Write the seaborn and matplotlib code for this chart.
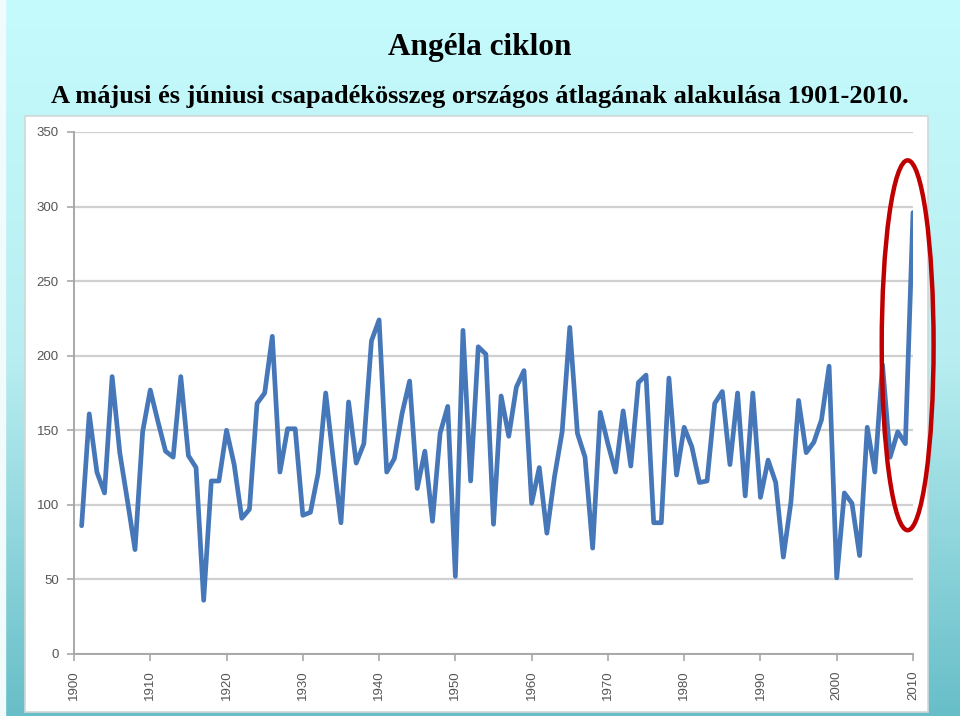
import numpy as np
import matplotlib
matplotlib.use('Agg')
import matplotlib.pyplot as plt
import seaborn as sns
from matplotlib.patches import Ellipse, Rectangle

# May + June precipitation totals, national average (mm), 1901-2010
years = list(range(1901, 2011))
rain = [86, 161, 122, 108, 186, 135, 103, 70, 149, 177,
        156, 136, 132, 186, 133, 125, 36, 116, 116, 150,
        127, 91, 97, 168, 175, 213, 122, 151, 151, 93,
        95, 121, 175, 130, 88, 169, 128, 141, 210, 224,
        122, 131, 161, 183, 111, 136, 89, 148, 166, 52,
        217, 116, 206, 201, 87, 173, 146, 179, 190, 101,
        125, 81, 119, 149, 219, 148, 132, 71, 162, 141,
        122, 163, 126, 182, 187, 88, 88, 185, 120, 152,
        139, 115, 116, 168, 176, 127, 175, 106, 175, 105,
        130, 115, 65, 102, 170, 135, 142, 157, 193, 51,
        108, 101, 66, 152, 122, 194, 132, 149, 141, 296]

title = 'Angéla ciklon'
subtitle = 'A májusi és júniusi csapadékösszeg országos átlagának alakulása 1901-2010.'
x_ticks = list(range(1900, 2011, 10))
y_ticks = list(range(0, 351, 50))

sns.set_theme(style="white")
plt.rcParams['font.family'] = ['Liberation Sans', 'DejaVu Sans']

fig = plt.figure(figsize=(9.6, 7.16), dpi=100)

# slide background: vertical cyan -> teal gradient
bg = fig.add_axes([0, 0, 1, 1], zorder=-10)
grad = np.linspace(0, 1, 256).reshape(-1, 1)
cmap = matplotlib.colors.LinearSegmentedColormap.from_list('slide', ['#c6fbfd', '#b8eef1', '#68bec8'])
bg.imshow(grad, aspect='auto', cmap=cmap, extent=[0, 1, 0, 1], origin='upper')
bg.add_patch(Rectangle((0, 0), 0.005, 1, color='#f2fbfb', transform=bg.transAxes))
# white chart box
bg.add_patch(Rectangle((25 / 960, 4 / 716), 903 / 960, 596 / 716, facecolor='white',
                       edgecolor='#cfd8d8', linewidth=1.2, transform=bg.transAxes))
bg.set_xlim(0, 1)
bg.set_ylim(0, 1)
bg.axis('off')

fig.text(0.5, 1 - 48 / 716, title, ha='center', va='center', fontsize=22.5,
         fontweight='bold', family='Liberation Serif', color='black')
fig.text(0.5, 1 - 97 / 716, subtitle, ha='center', va='center', fontsize=19,
         fontweight='bold', family='Liberation Serif', color='black')

ax = fig.add_axes([74 / 960, 62 / 716, 839 / 960, 522 / 716])
ax.set_facecolor('none')
sns.lineplot(x=years, y=rain, ax=ax, color='#4677b8', linewidth=3.4, zorder=3)

ax.set_xlim(1900, 2010)
ax.set_ylim(0, 350)
ax.set_xticks(x_ticks)
ax.set_yticks(y_ticks)
ax.set_xticklabels([str(t) for t in x_ticks], rotation=90)
ax.yaxis.grid(True, color='#d0d0d0', linewidth=1.6)
ax.set_axisbelow(True)
for side in ['top', 'right']:
    ax.spines[side].set_visible(False)
for side in ['left', 'bottom']:
    ax.spines[side].set_color('#a8a8a8')
    ax.spines[side].set_linewidth(1.4)
ax.tick_params(axis='both', which='major', direction='out', length=5, width=1.2,
               color='#a8a8a8', labelsize=9.5, labelcolor='#555555', bottom=True, left=True)
ax.tick_params(axis='x', pad=7)
ax.tick_params(axis='y', pad=6)
ax.set_xlabel('')
ax.set_ylabel('')

# red ellipse highlighting the 2010 record
ax.add_patch(Ellipse((2009.3, 207), 6.8, 248, fill=False, edgecolor='#c00000',
                     linewidth=3.2, clip_on=False, zorder=5))

fig.savefig('out.png', dpi=100)
print("Saved out.png")
